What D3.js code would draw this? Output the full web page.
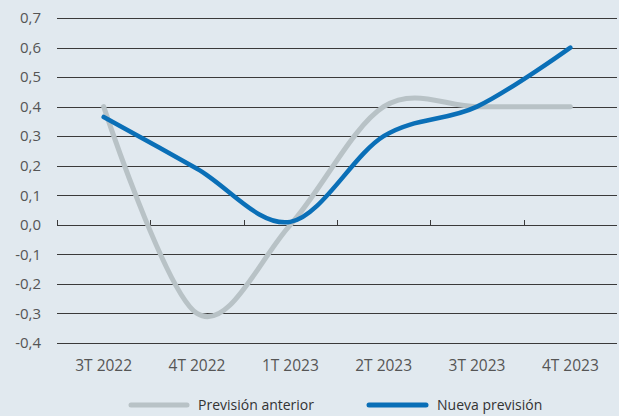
<!DOCTYPE html>
<html><head><meta charset="utf-8">
<script src="https://cdn.jsdelivr.net/npm/d3@7"></script>
<style>
html,body{margin:0;padding:0;background:#e1e9ef;}
svg{display:block;}
text{font-family:"Open Sans",sans-serif;fill:#555;}
</style></head>
<body>
<script>
const categories = ["3T 2022","4T 2022","1T 2023","2T 2023","3T 2023","4T 2023"];
const previsionAnterior = [0.40,-0.30,0.00,0.40,0.40,0.40];
const nuevaPrevision = [0.365,0.19,0.01,0.30,0.40,0.60];
const yTicks = [0.7,0.6,0.5,0.4,0.3,0.2,0.1,0.0,-0.1,-0.2,-0.3,-0.4];
const seriesNames = ["Previsión anterior","Nueva previsión"];
const seriesColors = ["#b8c2c6","#0a6fb7"];

const W=619,H=416;
const svg=d3.select("body").append("svg").attr("width",W).attr("height",H);
const x=d3.scaleBand().domain(categories).range([57,617]).padding(0);
const y=d3.scaleLinear().domain([-0.4,0.7]).range([343,18]);
const fmt=d=>d3.format(".1f")(d).replace(".",",").replace("−","-");

// grid
svg.append("g").selectAll("line").data(yTicks).join("line")
  .attr("x1",57).attr("x2",617)
  .attr("y1",d=>Math.round(y(d))+0.5).attr("y2",d=>Math.round(y(d))+0.5)
  .attr("stroke","#3a3a3a").attr("stroke-width",1);

// y labels
svg.append("g").selectAll("text").data(yTicks).join("text")
  .attr("x",41).attr("y",d=>y(d)).attr("dy","0.35em")
  .attr("text-anchor","end").style("font-size","15px")
  .text(d=>fmt(Math.abs(d)<1e-9?0:d));

// category ticks on zero line
const bounds=categories.map(c=>x(c));
svg.append("g").selectAll("line").data(bounds).join("line")
  .attr("x1",d=>Math.round(d)+0.5).attr("x2",d=>Math.round(d)+0.5)
  .attr("y1",Math.round(y(0))+0.5).attr("y2",Math.round(y(0))-5)
  .attr("stroke","#3a3a3a").attr("stroke-width",1);

// x labels
svg.append("g").selectAll("text").data(categories).join("text")
  .attr("x",d=>x(d)+x.bandwidth()/2).attr("y",371)
  .attr("text-anchor","middle").style("font-size","15.5px")
  .text(d=>d);

// lines
const line=d3.line().x((d,i)=>x(categories[i])+x.bandwidth()/2).y(d=>y(d))
  .curve(d3.curveCardinal.tension(0));
svg.append("path").datum(previsionAnterior).attr("d",line)
  .attr("fill","none").attr("stroke",seriesColors[0]).attr("stroke-width",5)
  .attr("stroke-linecap","round");
svg.append("path").datum(nuevaPrevision).attr("d",line)
  .attr("fill","none").attr("stroke",seriesColors[1]).attr("stroke-width",4.5)
  .attr("stroke-linecap","round");

// legend
const leg=[{x1:131,x2:187,tx:198},{x1:369,x2:426,tx:437}];
leg.forEach((l,i)=>{
  svg.append("line").attr("x1",l.x1).attr("x2",l.x2).attr("y1",405).attr("y2",405)
    .attr("stroke",seriesColors[i]).attr("stroke-width",5).attr("stroke-linecap","round");
  svg.append("text").attr("x",l.tx).attr("y",405).attr("dy","0.35em")
    .style("font-size","14px").style("fill","#333").text(seriesNames[i]);
});
</script>
</body></html>
